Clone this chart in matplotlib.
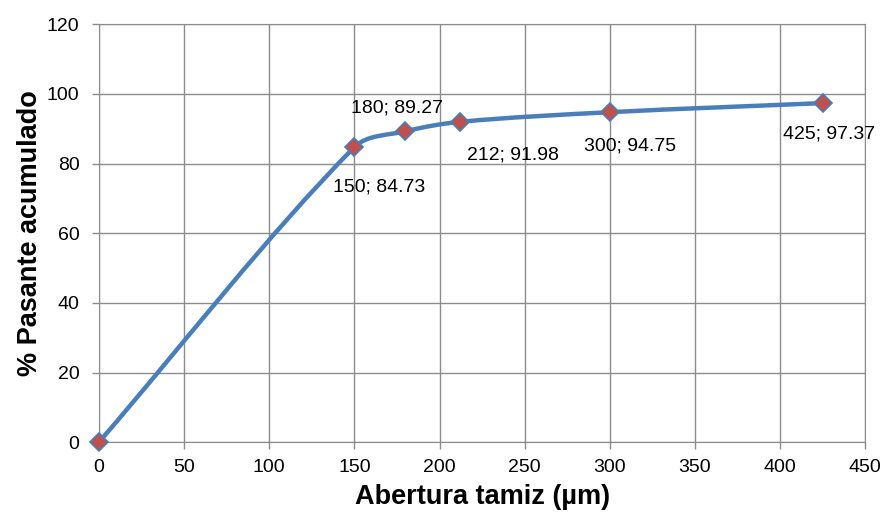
import numpy as np
import matplotlib.pyplot as plt
from matplotlib.path import Path
from matplotlib.patches import PathPatch

plt.rcParams['font.family'] = ['Liberation Sans', 'DejaVu Sans']

# datos
abertura = [0, 150, 180, 212, 300, 425]
pasante = [0, 84.73, 89.27, 91.98, 94.75, 97.37]
# desplazamiento de etiquetas (pixeles)
offsets = [None, (25, -40), (-8, 23), (53, -33), (20, -34), (6, -31)]

fig = plt.figure(figsize=(8.83, 5.16), dpi=100)
ax = fig.add_axes([0.112, 0.143, 0.868, 0.810])
ax.set_xlim(0, 450)
ax.set_ylim(0, 120)

# curva suavizada tipo Excel (Bezier, puntos de control segun longitud de tramos)
P = np.column_stack([abertura, pasante]).astype(float)
escala = np.array([766 / 450, 418 / 120])   # px por unidad
n = len(P)
def dist(a, b):
    return np.hypot(*((b - a) * escala))
verts = [P[0]]
codes = [Path.MOVETO]
for i in range(n - 1):
    p0 = P[i - 1] if i > 0 else P[i]
    p3 = P[i + 2] if i + 2 < n else P[i + 1]
    d01, d12, d23 = dist(p0, P[i]), dist(P[i], P[i + 1]), dist(P[i + 1], p3)
    c1 = P[i] + (P[i + 1] - p0) * d12 / (d01 + d12) / 3
    c2 = P[i + 1] - (p3 - P[i]) * d12 / (d12 + d23) / 3
    verts += [c1, c2, P[i + 1]]
    codes += [Path.CURVE4] * 3
ax.add_patch(PathPatch(Path(verts, codes), fill=False, edgecolor='#4a7ebb',
                       lw=3.2, capstyle='round', joinstyle='round', zorder=3))

ax.plot(abertura, pasante, linestyle='none', marker='D', markersize=9.5,
        markerfacecolor='#c0504d', markeredgecolor='#4a7ebb', markeredgewidth=1.2,
        zorder=4, clip_on=False)

for x, y, off in zip(abertura, pasante, offsets):
    if off is None:
        continue
    ax.annotate(f"{x}; {y:.2f}", (x, y), xytext=off, textcoords='offset pixels',
                ha='center', va='center', fontsize=14)

ax.set_xticks(range(0, 451, 50))
ax.set_yticks(range(0, 121, 20))
ax.grid(True, color='#8c8c8c', lw=1)
ax.set_axisbelow(True)
for s in ax.spines.values():
    s.set_color('#8c8c8c')
ax.tick_params(colors='#8c8c8c', labelcolor='black', labelsize=14, length=5, width=1)
ax.tick_params(axis='x', pad=7)
ax.tick_params(axis='y', pad=9)
ax.set_xlabel('Abertura tamiz (µm)', fontsize=19.5, fontweight='bold', labelpad=6)
ax.set_ylabel('% Pasante acumulado', fontsize=19.5, fontweight='bold', labelpad=3)

fig.savefig('out.png', dpi=100)
